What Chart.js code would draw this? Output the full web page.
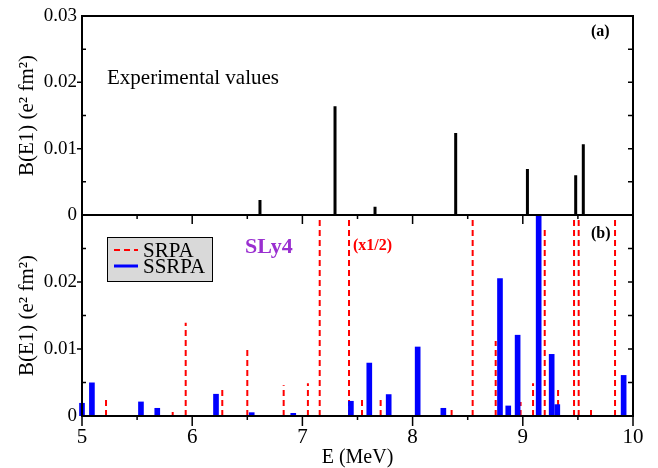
<!DOCTYPE html>
<html><head><meta charset="utf-8">
<script src="https://cdn.jsdelivr.net/npm/chart.js@4.4.1/dist/chart.umd.min.js"></script>
<style>
html,body{margin:0;padding:0;background:#fff;}
#wrap{position:relative;width:658px;height:468px;background:#fff;}
canvas{position:absolute;left:0;top:0;}
</style></head><body>
<div id="wrap"><canvas id="bot" width="658" height="468"></canvas><canvas id="top" width="658" height="468"></canvas></div>
<script>
// ---- data ----
const expEnergy   = [6.615, 7.296, 7.659, 8.391, 9.042, 9.480, 9.549];
const expStrength = [0.00225, 0.0164, 0.00125, 0.01235, 0.00695, 0.0060, 0.01065];

const srpaEnergy   = [5.218, 5.823, 5.941, 6.273, 6.500, 6.830, 7.050, 7.157, 7.423, 7.541, 7.710, 8.354, 8.545, 8.754, 8.980, 9.093, 9.199, 9.320, 9.465, 9.507, 9.619, 9.837];
const srpaStrength = [0.0030, 0.0006, 0.0139, 0.00435, 0.0103, 0.0046, 0.0049, 0.045, 0.045, 0.0028, 0.00265, 0.00115, 0.045, 0.0112, 0.0021, 0.0049, 0.0282, 0.00435, 0.045, 0.045, 0.00115, 0.045];

const ssrpaEnergy   = [5.000, 5.090, 5.535, 5.683, 6.216, 6.540, 6.917, 7.440, 7.607, 7.783, 8.046, 8.279, 8.793, 8.868, 8.953, 9.144, 9.262, 9.313, 9.915];
const ssrpaStrength = [0.0019, 0.00495, 0.0021, 0.00115, 0.00325, 0.0005, 0.0004, 0.0022, 0.0079, 0.0032, 0.0103, 0.00115, 0.0205, 0.0015, 0.01206, 0.032, 0.0092, 0.0017, 0.00606];

const energyTicks   = [5, 6, 7, 8, 9, 10];
const strengthTicks = [0, 0.01, 0.02, 0.03];

const seriesLabels = ['SRPA', 'SSRPA'];
const panelTexts = {exp: 'Experimental values', a: '(a)', b: '(b)', model: 'SLy4', scale: '(x1/2)'};
const xTitle = 'E (MeV)';
const yTitle = 'B(E1) (e\u00B2 fm\u00B2)';

// ---- helpers ----
Chart.defaults.font.family = "'Liberation Serif', 'Times New Roman', serif";
Chart.defaults.color = '#000';

function stems(xs, ys) {
  const pts = [];
  xs.forEach((x, i) => { pts.push({x, y: 0}, {x, y: ys[i]}, {x, y: null}); });
  return pts;
}
function minors(arr) {
  const out = [];
  for (let i = 0; i < arr.length - 1; i++) out.push((arr[i] + arr[i + 1]) / 2);
  return out;
}
function fmtY(v) { return Math.abs(v) < 1e-12 ? '0' : v.toFixed(2); }

function framePlugin(opt) {
  return {
    id: 'frame',
    afterDraw(chart) {
      const {ctx, chartArea: a} = chart;
      const x = chart.scales.x, y = chart.scales.y;
      ctx.save();
      ctx.strokeStyle = '#000';
      ctx.lineWidth = 1.5;
      ctx.beginPath();
      strengthTicks.forEach(v => {
        if (v <= 0 || v >= 0.03 - 1e-9) return;
        const py = y.getPixelForValue(v);
        ctx.moveTo(a.left - 5, py); ctx.lineTo(a.left, py);
        ctx.moveTo(a.right, py); ctx.lineTo(a.right - 5, py);
      });
      minors(strengthTicks).forEach(v => {
        const py = y.getPixelForValue(v);
        ctx.moveTo(a.left, py); ctx.lineTo(a.left + 4, py);
        ctx.moveTo(a.right, py); ctx.lineTo(a.right - 5, py);
      });
      if (opt.xTicks) {
        energyTicks.forEach(v => {
          const px = x.getPixelForValue(v);
          ctx.moveTo(px, a.bottom); ctx.lineTo(px, a.bottom + 10);
          if (v > 5 && v < 10) { ctx.moveTo(px, a.top); ctx.lineTo(px, a.top + 9); }
        });
        minors(energyTicks).forEach(v => {
          const px = x.getPixelForValue(v);
          ctx.moveTo(px, a.bottom); ctx.lineTo(px, a.bottom + 4);
          ctx.moveTo(px, a.top); ctx.lineTo(px, a.top + 4);
        });
      }
      ctx.stroke();
      ctx.lineWidth = 2;
      ctx.strokeRect(a.left, a.top, a.right - a.left, a.bottom - a.top);
      ctx.restore();
    }
  };
}

const serif = "'Liberation Serif', 'Times New Roman', serif";

const topNotes = {
  id: 'notes',
  afterDraw(chart) {
    const ctx = chart.ctx;
    ctx.save();
    ctx.fillStyle = '#000';
    ctx.textBaseline = 'alphabetic';
    ctx.font = '21px ' + serif;
    ctx.fillText(panelTexts.exp, 107, 84);
    ctx.font = 'bold 16px ' + serif;
    ctx.textBaseline = 'middle';
    ctx.fillText(panelTexts.a, 591, 32);
    ctx.restore();
  }
};

const botNotes = {
  id: 'notes',
  afterDraw(chart) {
    const ctx = chart.ctx;
    ctx.save();
    ctx.fillStyle = '#d9d9d9';
    ctx.fillRect(107.5, 237.5, 105, 44);
    ctx.strokeStyle = '#000';
    ctx.lineWidth = 1;
    ctx.strokeRect(107.5, 237.5, 105, 44);
    const ds = chart.data.datasets;
    const rows = [250, 266];
    ds.forEach((d, i) => {
      const yy = rows[i];
      ctx.beginPath();
      ctx.strokeStyle = d.borderColor || d.backgroundColor;
      ctx.lineWidth = d.type === 'line' ? 2 : 3;
      ctx.setLineDash(d.borderDash || []);
      ctx.moveTo(114, yy); ctx.lineTo(138, yy);
      ctx.stroke();
      ctx.setLineDash([]);
      ctx.fillStyle = '#000';
      ctx.font = '21px ' + serif;
      ctx.textBaseline = 'middle';
      ctx.fillText(d.label, 143, yy + 1);
    });
    ctx.textBaseline = 'middle';
    ctx.font = 'bold 22px ' + serif;
    ctx.fillStyle = '#9a2fd0';
    ctx.fillText(panelTexts.model, 245, 247);
    ctx.font = 'bold 16px ' + serif;
    ctx.fillStyle = '#ff0000';
    ctx.fillText(panelTexts.scale, 353, 246);
    ctx.fillStyle = '#000';
    ctx.fillText(panelTexts.b, 591, 234);
    ctx.restore();
  }
};

function yScale(hideTop) {
  return {
    min: 0, max: 0.03,
    afterBuildTicks: s => { s.ticks = strengthTicks.map(v => ({value: v})); },
    afterFit: s => { s.width = 82; s.paddingTop = 0; s.paddingBottom = 0; s.paddingLeft = 0; s.paddingRight = 0; },
    grid: {display: false, drawTicks: false},
    border: {display: false},
    ticks: {
      padding: 5, color: '#000', font: {size: 19},
      callback: v => (hideTop && Math.abs(v - 0.03) < 1e-9) ? '' : fmtY(v)
    },
    title: {display: true, text: yTitle, color: '#000', font: {size: 21}, padding: {top: 15, bottom: 0}}
  };
}

new Chart(document.getElementById('top'), {
  type: 'line',
  data: {datasets: [{
    label: 'Experiment',
    data: stems(expEnergy, expStrength),
    borderColor: '#000', borderWidth: 3, borderCapStyle: 'butt',
    pointRadius: 0, spanGaps: false, fill: false
  }]},
  options: {
    responsive: false, animation: false,
    layout: {padding: {left: 0, right: 25, top: 16, bottom: 253}},
    plugins: {legend: {display: false}, tooltip: {enabled: false}},
    scales: {
      x: {type: 'linear', min: 5, max: 10, display: false,
          afterBuildTicks: s => { s.ticks = energyTicks.map(v => ({value: v})); }},
      y: yScale(false)
    }
  },
  plugins: [framePlugin({xTicks: false}), topNotes]
});

new Chart(document.getElementById('bot'), {
  type: 'bar',
  data: {datasets: [
    {type: 'line', label: seriesLabels[0], data: stems(srpaEnergy, srpaStrength),
     borderColor: '#ff0000', borderWidth: 2, borderDash: [6, 4], borderCapStyle: 'butt',
     pointRadius: 0, spanGaps: false, fill: false, order: 2},
    {type: 'bar', label: seriesLabels[1], data: ssrpaEnergy.map((x, i) => ({x, y: ssrpaStrength[i]})),
     backgroundColor: '#0000ff', borderWidth: 0, barThickness: 5, order: 1,
     clip: {left: 5, top: 0, right: 5, bottom: 0}}
  ]},
  options: {
    responsive: false, animation: false,
    layout: {padding: {left: 0, right: 25, top: 215, bottom: 0}},
    plugins: {legend: {display: false}, tooltip: {enabled: false}},
    scales: {
      x: {
        type: 'linear', min: 5, max: 10, offset: false,
        afterBuildTicks: s => { s.ticks = energyTicks.map(v => ({value: v})); },
        afterFit: s => { s.height = 52; s.paddingLeft = 0; s.paddingRight = 0; },
        grid: {display: false, drawTicks: false},
        border: {display: false},
        ticks: {padding: 9, color: '#000', font: {size: 21}, maxRotation: 0, autoSkip: false},
        title: {display: true, text: xTitle, color: '#000', font: {size: 20, lineHeight: 1}, padding: {top: 0, bottom: 0}}
      },
      y: yScale(true)
    }
  },
  plugins: [framePlugin({xTicks: true}), botNotes]
});
</script>
</body></html>
